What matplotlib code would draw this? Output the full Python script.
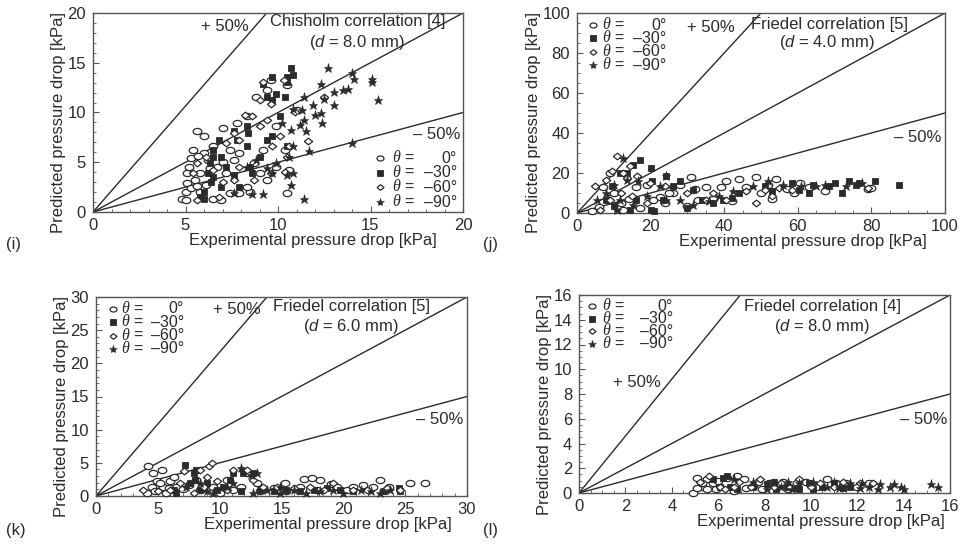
import matplotlib
matplotlib.use('Agg')
import matplotlib.pyplot as plt
from matplotlib.ticker import MultipleLocator
from matplotlib.path import Path
from matplotlib.font_manager import FontProperties
import numpy as np

plt.rcParams['font.family'] = ['Liberation Sans', 'DejaVu Sans']
plt.rcParams['mathtext.fontset'] = 'custom'
plt.rcParams['mathtext.rm'] = 'Liberation Sans'
plt.rcParams['mathtext.it'] = 'Liberation Sans:italic'
plt.rcParams['mathtext.sf'] = 'Liberation Sans:italic'

# ---------------- data ----------------
angle_labels = ['0°', '–30°', '–60°', '–90°']

# panel (i) Chisholm, d = 8.0 mm
i_0 = [(4.8,1.3),(5.0,2.0),(5.1,2.9),(5.1,3.9),(5.2,4.5),(5.3,5.4),(5.4,6.2),(5.6,8.1),(6.0,7.6),(7.0,8.4),
       (5.8,2.0),(6.5,1.3),(6.9,1.2),(7.4,1.9),(7.9,1.9),(8.5,2.0),(10.5,1.9),(10.6,4.2),(10.4,6.2),(9.9,8.6),
       (11.0,10.3),(10.5,12.8),(9.6,13.3),(9.4,12.3),(8.8,11.6),(8.3,9.6),(7.8,8.9),(6.5,6.6),(6.2,5.2),(6.7,4.5),
       (7.2,3.9),(7.6,5.2),(7.9,5.9),(8.7,4.9),(9.0,3.9),(9.2,6.2),(9.9,4.5),(5.8,3.9),(5.5,3.2),(6.1,2.7),
       (8.3,2.5),(9.4,3.2),(6.0,5.9),(5.0,1.2),(5.3,2.4),(5.6,2.6),(5.7,5.6),(6.3,4.4),(7.0,5.0),(7.4,6.2)]
i_30 = [(5.8,1.5),(6.0,2.0),(6.0,1.3),(6.5,3.5),(6.5,5.5),(6.5,6.2),(6.8,7.2),(7.6,8.1),(7.8,7.2),(8.3,6.6),
        (8.4,7.9),(8.5,4.5),(8.6,3.9),(7.6,3.7),(7.2,4.5),(6.9,5.5),(9.4,7.2),(9.7,7.6),(10.1,9.6),(9.7,11.3),
        (9.4,11.6),(9.2,12.9),(9.7,13.6),(10.4,11.6),(10.5,13.6),(10.7,14.5),(10.8,13.8),(10.5,13.1),(9.9,11.9),(10.5,6.6),
        (7.9,2.5),(6.9,2.5),(6.2,3.9),(9.0,5.5),(8.3,8.6),(6.4,3.0),(6.3,4.9)]
i_60 = [(11.6,7.1),(10.9,10.1),(12.5,11.6),(10.3,13.3),(9.2,13.1),(9.0,11.3),(9.6,10.9),(8.6,9.6),(8.2,9.7),(7.6,7.9),
        (7.2,6.9),(7.9,7.2),(9.0,8.6),(9.7,6.6),(10.6,6.6),(10.5,5.5),(6.1,5.5),(6.5,4.2),(7.0,3.0),(7.6,3.2),
        (8.7,3.2),(9.6,3.9),(5.6,4.9),(5.4,3.9),(6.8,1.5),(7.9,4.5),(10.1,7.6),(9.4,9.2),(5.6,1.2),(10.4,4.0)]
i_90 = [(8.6,1.8),(9.2,1.8),(7.6,1.9),(11.4,1.3),(10.7,2.7),(9.7,3.9),(9.9,4.9),(10.6,5.5),(10.8,6.6),(11.7,6.1),
        (14.0,6.9),(10.7,8.2),(11.2,8.7),(11.4,9.2),(11.5,8.1),(12.0,9.7),(12.3,9.9),(12.4,8.9),(10.8,10.4),(11.3,10.3),
        (11.4,11.6),(11.9,10.8),(12.5,11.4),(12.3,12.9),(12.7,14.5),(13.0,12.1),(13.0,10.8),(13.5,12.3),(13.8,12.4),(14.0,14.0),
        (14.1,13.4),(15.1,13.4),(15.1,13.1),(15.4,11.3),(10.2,8.9),(8.8,5.2),(9.4,4.4),(10.5,3.7),(10.8,3.9),(8.3,4.5)]

# panel (j) Friedel, d = 4.0 mm
j_0 = [(4,1),(6,3),(7,13),(9,20),(12,5),(14,7),(16,13),(19,14),(22.5,8),(26,10),
       (28,14),(31,18),(32,12),(35,13),(37,7),(39,13),(40.5,16),(42,6),(44,17),(46,13),
       (48.6,18),(50,10),(52,14),(53,7),(54,17),(57,12),(59,10),(60.5,15),(63,13),(67.5,11),
       (79,12),(80,12.5),(10,10),(12.6,1.7),(17,2.5),(20.7,6.7),(24,5),(30,3.3),(33,6.7),(25,10)]
j_30 = [(8,6.7),(9.5,13.3),(11.7,20),(13.5,20),(17,26.7),(20,22.5),(15.3,24),(10,3.3),(14.4,1.7),(16,6.7),
        (20,1.7),(20.3,15.8),(24.3,18.3),(26,13.3),(28,15.8),(30,2.5),(31.5,11.7),(34,6.7),(37,5),(39.6,6.7),
        (42,7.5),(44,10),(51,13.3),(53,10.8),(58.5,15),(63,10),(64,14),(68.5,13.3),(70,15),(72,10),
        (73.8,15.8),(75.7,14),(81,15.8),(87.4,14.2),(76.6,15),(60.4,11.7),(23.4,6.7),(21,1)]
j_60 = [(5,13.3),(8,16.7),(9.5,20.8),(10.8,28.3),(12.6,20),(14.4,23.3),(13.5,17.5),(16.2,18.3),(19.8,15),(9,6.7),
        (12,10),(15,8.3),(24,13.3),(30,10),(35,6.7),(40.5,6.7),(46,10.8),(48.6,5),(51,11.7),(53,8.3),
        (55,12.5),(58.5,11.7),(79,12.5),(37,10),(19,5),(6.3,1.7)]
j_90 = [(5.4,6.7),(8,10),(10,14),(12.6,27.5),(13.5,16.7),(16.7,15.8),(19,8.3),(22.5,13.3),(24.3,18.3),(28,6.7),
        (31.5,4.2),(36,5.8),(38.7,8.3),(42.3,10.8),(47.7,13.3),(52,15.8),(56,14.2),(61,13.3),(65,13.3),(67.5,14),
        (73,13.3),(77.5,15),(11.7,6.7),(15.3,4.2),(10.8,1.7),(24.3,6.7)]

# panel (k) Friedel, d = 6.0 mm
k_0 = [(4.2,4.5),(4.6,3.4),(4.1,0.4),(4.5,1.4),(4.9,2.2),(5.4,1.4),(5.7,0.4),(6.0,2.2),(6.3,2.9),(6.5,1.4),
       (7.5,1.7),(8.1,2.4),(9.5,1.4),(10.6,2.4),(11.7,1.4),(12.2,3.4),(13.0,1.9),(14.4,1.2),(15.3,2.0),(16.5,1.4),
       (16.8,2.5),(17.5,2.7),(18.1,2.4),(19.0,1.8),(19.5,1.4),(20.3,0.9),(20.8,1.4),(21.6,1.7),(22.4,1.4),(23.0,2.4),
       (23.7,1.4),(25.4,1.9),(26.6,1.9),(8.4,0.9),(10.0,0.4),(11.1,0.9),(15.4,0.7),(17.9,0.9),(13.3,0.7),(5.3,3.9),
       (4.8,0.8),(5.2,2.0),(5.9,1.2),(7.0,1.0)]
k_30 = [(6.3,0.9),(6.5,0.4),(7.2,4.7),(7.6,1.9),(7.9,3.4),(8.1,3.9),(8.0,2.4),(8.4,0.9),(9.8,0.9),(10.3,1.4),
        (10.8,2.4),(11.1,3.4),(11.9,3.4),(12.7,3.4),(11.7,0.7),(13.3,0.9),(14.4,0.7),(15.4,0.9),(16.5,0.7),(17.6,0.9),
        (18.7,1.2),(19.7,0.9),(20.8,0.7),(23.3,0.7),(24.5,1.2),(24.6,0.7),(9.0,1.9)]
k_60 = [(3.8,0.9),(5.0,0.7),(6.0,0.9),(7.1,3.7),(8.4,3.9),(9.1,4.5),(9.4,4.9),(9.0,2.9),(9.8,2.2),(8.7,1.4),
        (11.1,3.9),(12.2,3.9),(12.7,2.4),(13.5,1.4),(14.6,1.4),(16.0,1.2),(17.3,1.4),(18.4,0.9),(19.2,1.9),(20.8,0.9),
        (21.9,0.9),(23.5,1.2),(24.6,0.9),(6.8,1.9),(7.9,0.4),(10.6,0.9)]
k_90 = [(7.3,1.4),(8.4,1.9),(9.5,0.4),(11.1,1.9),(11.7,4.2),(12.5,3.2),(13.0,3.5),(12.7,0.4),(13.8,0.9),(14.9,0.4),
        (16.0,0.9),(17.0,0.4),(18.1,0.7),(19.2,0.9),(20.0,0.4),(21.4,0.9),(22.2,0.7),(23.0,0.4),(23.8,0.9),(10.6,1.4),
        (9.0,0.7),(14.9,1.4)]

# panel (l) Friedel, d = 8.0 mm
l_0 = [(5.1,1.2),(5.3,0.5),(4.9,0.0),(5.1,0.4),(5.5,1.1),(5.8,0.8),(5.9,0.3),(6.4,1.2),(6.8,1.35),(7.1,1.1),
       (7.2,0.4),(7.7,0.9),(7.9,0.3),(8.2,0.8),(8.8,0.9),(9.4,0.8),(9.8,0.9),(10.2,0.5),(10.7,1.1),(11.1,0.8),
       (11.5,0.8),(12.0,0.5),(12.5,0.8),(5.5,0.3),(6.7,0.15),(9.0,0.3),(5.3,0.8),(6.0,1.0),(7.5,0.6)]
l_30 = [(6.2,1.2),(6.4,1.35),(6.1,0.5),(6.5,0.5),(6.8,0.3),(7.5,0.5),(8.1,0.7),(8.5,0.3),(9.0,0.5),(9.4,0.4),
        (9.9,0.8),(10.1,0.3),(10.5,0.5),(11.0,0.8),(11.4,0.4),(11.7,0.5),(5.8,1.1),(8.4,0.9),(9.5,0.3)]
l_60 = [(5.2,0.9),(5.6,1.35),(6.1,0.5),(6.7,0.5),(6.9,0.9),(7.4,0.5),(7.8,1.1),(8.4,0.5),(9.1,0.5),(9.5,1.1),
        (10.0,0.5),(10.4,0.8),(11.0,0.5),(11.4,0.9),(12.1,0.8),(12.7,0.8),(6.3,0.3),(8.7,0.8)]
l_90 = [(6.7,1.1),(7.5,0.9),(8.1,0.3),(8.4,0.8),(8.7,0.5),(9.0,0.9),(9.2,0.3),(9.5,0.8),(10.1,0.9),(10.7,0.5),
        (11.0,0.9),(11.2,0.4),(11.7,0.8),(12.1,0.4),(12.5,0.5),(13.0,0.7),(13.4,0.5),(13.6,0.7),(13.9,0.5),(14.0,0.3),
        (15.2,0.7),(15.5,0.5),(12.9,0.3),(12.2,0.8)]

# axis maxima, tick steps, slope of the upper bound line
panel_max = [20, 100, 30, 16]
major_step = [5, 20, 5, 2]
minor_step = [1, 5, 1, 0.5]
upper_slope = [2.13, 2.0, 2.17, 2.3]
lower_slope = 0.5
titles = ['Chisholm correlation [4]', 'Friedel correlation [5]',
          'Friedel correlation [5]', 'Friedel correlation [4]']
diams = ['8.0', '4.0', '6.0', '8.0']
panel_tags = ['(i)', '(j)', '(k)', '(l)']

# ---------------- drawing ----------------
INK = '#2b2b2b'
fig = plt.figure(figsize=(9.6, 5.47), dpi=100)
fig.patch.set_facecolor('white')
renderer = fig.canvas.get_renderer()

# marker shapes: flattened ellipse and flattened diamond
th = np.linspace(0, 2 * np.pi, 41)
ellipse = Path(np.column_stack([np.cos(th), 0.72 * np.sin(th)]))
diamond = Path([(-1, 0), (0, 0.8), (1, 0), (0, -0.8), (-1, 0)])

W, H = 960.0, 547.0
boxes_px = [(93, 13, 463, 212), (577, 13, 945, 213), (96, 297, 467, 496), (579, 295, 950, 493)]
data = [(i_0, i_30, i_60, i_90), (j_0, j_30, j_60, j_90),
        (k_0, k_30, k_60, k_90), (l_0, l_30, l_60, l_90)]

styles = [dict(marker=ellipse, mfc='white', mec=INK, ms=6.2, mew=0.9),
          dict(marker='s', mfc=INK, mec=INK, ms=4.8, mew=0.6),
          dict(marker=diamond, mfc='white', mec=INK, ms=6.0, mew=0.9),
          dict(marker='*', mfc=INK, mec=INK, ms=6.5, mew=0.4)]
leg_styles = [dict(marker=ellipse, mfc='white', mec=INK, ms=5.0, mew=0.9),
              dict(marker='s', mfc=INK, mec=INK, ms=4.2, mew=0.6),
              dict(marker=diamond, mfc='white', mec=INK, ms=5.0, mew=0.9),
              dict(marker='*', mfc=INK, mec=INK, ms=6.0, mew=0.4)]

# text placements in axes fraction
plus_pos = [(0.357, 0.930), (0.365, 0.930), (0.380, 0.935), (0.156, 0.556)]
title_pos = [(0.715, 0.955), (0.686, 0.940), (0.690, 0.950), (0.655, 0.944)]
diam_pos = [(0.712, 0.854), (0.678, 0.850), (0.687, 0.854), (0.655, 0.843)]
minus_pos = [(0.992, 0.387), (0.989, 0.375), (0.989, 0.382), (0.992, 0.369)]
xlabel_right = [0.93, 0.95, 0.96, 0.987]
# legend: marker x, theta x, value right x, row ys (axes fraction)
leg_x = [(0.776, 0.808, 0.984), (0.043, 0.068, 0.243), (0.046, 0.068, 0.237), (0.035, 0.062, 0.253)]
leg_y = [(0.271, 0.196, 0.126, 0.050), (0.940, 0.875, 0.805, 0.740),
         (0.940, 0.874, 0.804, 0.739), (0.944, 0.879, 0.818, 0.753)]
tag_pos = [(6, 245), (483, 245), (6, 531), (483, 531)]

FS = 12
FT = 12
FL = 11.5
fp_sans = FontProperties(family='Liberation Sans', size=FL)
fp_serif = FontProperties(family='Liberation Serif', style='italic', size=FL)


def line_spacing(fp, px):
    # baseline-to-baseline distance in matplotlib = (h - d) * linespacing + d
    _, h, d = renderer.get_text_width_height_descent('lp', fp, ismath=False)
    return (px - d) / (h - d)


for p in range(4):
    l, t, r, b = boxes_px[p]
    ax = fig.add_axes([l / W, 1 - b / H, (r - l) / W, (b - t) / H])
    m = panel_max[p]
    ax.set_xlim(0, m)
    ax.set_ylim(0, m)
    # reference lines
    ax.plot([0, m / upper_slope[p]], [0, m], color=INK, lw=1.0, zorder=2)
    ax.plot([0, m], [0, m], color=INK, lw=1.0, zorder=2)
    ax.plot([0, m], [0, m * lower_slope], color=INK, lw=1.0, zorder=2)
    # scatter series
    for s in range(4):
        pts = data[p][s]
        xs = [q[0] for q in pts]
        ys = [q[1] for q in pts]
        ax.plot(xs, ys, ls='none', zorder=3 + s, clip_on=False, **styles[s])
    # axes styling
    for sp in ax.spines.values():
        sp.set_color('#555555')
        sp.set_linewidth(1.0)
    ax.xaxis.set_major_locator(MultipleLocator(major_step[p]))
    ax.yaxis.set_major_locator(MultipleLocator(major_step[p]))
    ax.xaxis.set_minor_locator(MultipleLocator(minor_step[p]))
    ax.yaxis.set_minor_locator(MultipleLocator(minor_step[p]))
    ax.tick_params(which='major', direction='in', length=4, width=0.8, color='#555555',
                   labelsize=FT, labelcolor=INK)
    ax.tick_params(axis='x', which='major', pad=4)
    ax.tick_params(axis='y', which='major', pad=5)
    ax.tick_params(which='minor', direction='in', length=2, width=0.6, color='#555555')
    ax.set_xlabel('Experimental pressure drop [kPa]', fontsize=FS, color=INK, labelpad=0,
                  x=xlabel_right[p], ha='right')
    ax.set_ylabel('Predicted pressure drop [kPa]', fontsize=FS, color=INK, labelpad=1,
                  y=1.005, ha='right')
    # annotations
    ax.text(*plus_pos[p], '+ 50%', transform=ax.transAxes, ha='center', va='center',
            fontsize=FS, color=INK)
    ax.text(*title_pos[p], titles[p], transform=ax.transAxes, ha='center', va='center',
            fontsize=FS, color=INK)
    ax.text(*diam_pos[p], '($\\mathsf{d}$ = ' + diams[p] + ' mm)', transform=ax.transAxes,
            ha='center', va='center', fontsize=FS, color=INK)
    ax.text(*minus_pos[p], '– 50%', transform=ax.transAxes, ha='right', va='center',
            fontsize=FS, color=INK)
    # legend (manual): markers + three text columns
    mx, tx, vx = leg_x[p]
    ys_leg = leg_y[p]
    row_px = (ys_leg[0] - ys_leg[-1]) / 3 * (b - t)
    ymid = sum(ys_leg) / 4
    for s in range(4):
        ax.plot([mx], [ys_leg[s]], transform=ax.transAxes, ls='none', clip_on=False,
                zorder=10, **leg_styles[s])
    ax.text(tx, ymid, '\n'.join(['θ'] * 4), transform=ax.transAxes, ha='left', va='center',
            fontproperties=fp_serif, color=INK, linespacing=line_spacing(fp_serif, row_px))
    eq_x = tx + 12.5 / (r - l)
    ax.text(eq_x, ymid, '\n'.join(['='] * 4), transform=ax.transAxes, ha='left', va='center',
            fontproperties=fp_sans, color=INK, linespacing=line_spacing(fp_sans, row_px))
    ax.text(vx, ymid, '\n'.join(angle_labels), transform=ax.transAxes, ha='right', va='center',
            multialignment='right', fontproperties=fp_sans, color=INK,
            linespacing=line_spacing(fp_sans, row_px))
    fig.text(tag_pos[p][0] / W, 1 - tag_pos[p][1] / H, panel_tags[p], ha='left', va='center',
             fontsize=FS, color=INK)

fig.savefig('out.png', dpi=100, facecolor='white')
